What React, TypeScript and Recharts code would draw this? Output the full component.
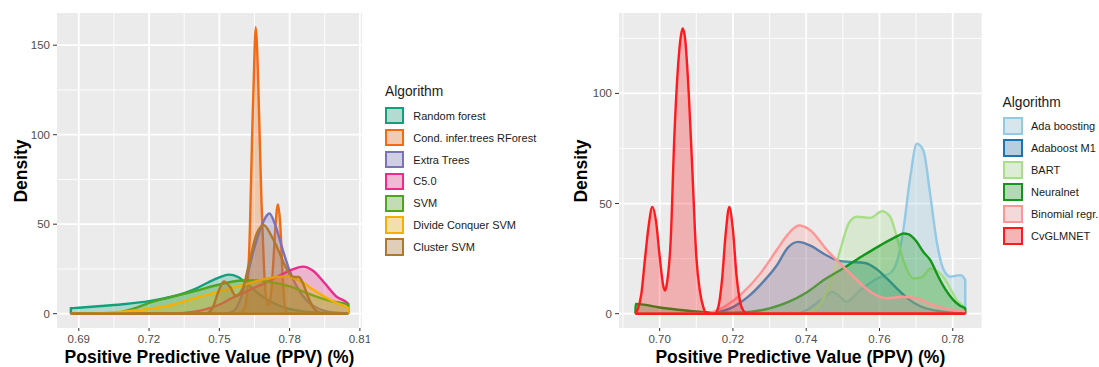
import React from 'react';
import { ComposedChart, Area, XAxis, YAxis, CartesianGrid, ReferenceLine } from 'recharts';

// ---------- Left panel data ----------
const leftNames = ['Random forest', 'Cond. infer.trees RForest', 'Extra Trees', 'C5.0', 'SVM', 'Divide Conquer SVM', 'Cluster SVM'];
const leftColors = ['#12a07c', '#f26b12', '#7a72bb', '#ee2a8b', '#4ea61e', '#f5b000', '#b0782a'];

const rfX = [0.6866, 0.68662, 0.69, 0.70, 0.71, 0.72, 0.73, 0.74, 0.745, 0.75, 0.754, 0.758, 0.762, 0.766, 0.770, 0.775, 0.780, 0.785, 0.790, 0.795, 0.800, 0.805];
const rfY = [0, 3.0, 3.3, 4.3, 5.4, 7.0, 9.6, 14.0, 17.3, 20.3, 21.8, 20.5, 16.5, 12.0, 8.2, 4.8, 2.6, 1.4, 0.7, 0.4, 0.2, 0.1];

const ciX = [0.6866, 0.755, 0.759, 0.761, 0.762, 0.763, 0.764, 0.765, 0.7655, 0.766, 0.767, 0.768, 0.769, 0.770, 0.771, 0.772, 0.773, 0.774, 0.775, 0.776, 0.777, 0.778, 0.779, 0.781, 0.805];
const ciY = [0, 0, 0.5, 4, 15, 45, 100, 145, 160, 152, 110, 62, 28, 8, 4.5, 10, 28, 50, 61, 50, 22, 4, 0.5, 0, 0];

const etX = [0.6866, 0.752, 0.756, 0.759, 0.762, 0.765, 0.768, 0.7714, 0.774, 0.777, 0.780, 0.785, 0.790, 0.795, 0.800, 0.805];
const etY = [0, 0, 1.5, 8, 22, 37, 49, 56, 49, 36, 24, 11, 4.5, 1.5, 0.5, 0.2];

const c5X = [0.6866, 0.73, 0.735, 0.74, 0.745, 0.75, 0.755, 0.76, 0.765, 0.77, 0.775, 0.78, 0.7857, 0.79, 0.795, 0.80, 0.805, 0.80502];
const c5Y = [0, 0, 0.4, 1.2, 2.8, 5, 8.5, 11.5, 14.5, 17.5, 20.8, 24, 26.3, 24, 17, 9.5, 5.6, 0];

const svmX = [0.6866, 0.70, 0.705, 0.71, 0.715, 0.72, 0.73, 0.74, 0.75, 0.76, 0.766, 0.772, 0.78, 0.785, 0.79, 0.795, 0.80, 0.805, 0.80502];
const svmY = [0, 0, 0.3, 1.5, 3.5, 6, 9.5, 12.8, 16.3, 18.5, 18.6, 17.6, 15.2, 12.8, 10.2, 8, 6.4, 5.2, 0];

const dcX = [0.6866, 0.695, 0.70, 0.71, 0.72, 0.73, 0.74, 0.75, 0.76, 0.77, 0.778, 0.785, 0.79, 0.795, 0.80, 0.805, 0.80502];
const dcY = [0, 0, 0.3, 1.2, 2.6, 5, 8.8, 12.5, 16, 19.5, 20.8, 18, 13.5, 9.5, 6, 3.2, 0];

const csX = [0.6866, 0.744, 0.747, 0.7495, 0.752, 0.7545, 0.757, 0.760, 0.763, 0.766, 0.769, 0.772, 0.775, 0.778, 0.780, 0.782, 0.784, 0.786, 0.788, 0.790, 0.792, 0.795, 0.805];
const csY = [0, 0, 3, 12, 18, 15, 10, 14, 30, 45, 49.5, 44, 36, 27, 22, 20.5, 20.5, 16, 9, 3.5, 1, 0, 0];

const leftXs = [rfX, ciX, etX, c5X, svmX, dcX, csX];
const leftYs = [rfY, ciY, etY, c5Y, svmY, dcY, csY];
const leftXTicks = [0.69, 0.72, 0.75, 0.78, 0.81];
const leftXMinor = [0.705, 0.735, 0.765, 0.795];
const leftYTicks = [0, 50, 100, 150];
const leftYMinor = [25, 75, 125];
const leftXDomain = [0.6807, 0.8109];
const leftYDomain = [-8, 168];
const leftRange = [0.6866, 0.805];

// ---------- Right panel data ----------
const rightNames = ['Ada boosting', 'Adaboost M1', 'BART', 'Neuralnet', 'Binomial regr.', 'CvGLMNET'];
const rightColors = ['#93c9e4', '#1c74b1', '#a9de88', '#13961a', '#ff9696', '#ff1a1c'];

const adaX = [0.6934, 0.737, 0.740, 0.743, 0.7452, 0.747, 0.749, 0.7511, 0.754, 0.757, 0.760, 0.763, 0.765, 0.7665, 0.7684, 0.7702, 0.772, 0.7738, 0.7757, 0.7775, 0.7793, 0.782, 0.7834, 0.78342];
const adaY = [0, 0, 1.5, 5, 7.7, 10, 8, 5.4, 9.5, 13.5, 16.5, 18.5, 25, 38, 62, 77.2, 74, 54.6, 32, 20, 16.8, 17.5, 15.3, 0];

const abmX = [0.6934, 0.712, 0.716, 0.72, 0.724, 0.728, 0.732, 0.735, 0.7378, 0.741, 0.745, 0.749, 0.752, 0.756, 0.759, 0.762, 0.765, 0.768, 0.771, 0.775, 0.779, 0.7834];
const abmY = [0, 0, 0.8, 3, 7.5, 14, 22, 30, 32.6, 31, 27, 24, 23.5, 23, 20.5, 16, 11, 6.5, 3.5, 1.5, 0.6, 0.3];

const bartX = [0.6934, 0.738, 0.741, 0.744, 0.7466, 0.7493, 0.7516, 0.7538, 0.7575, 0.7607, 0.7629, 0.7647, 0.7665, 0.7693, 0.7715, 0.774, 0.7775, 0.7811, 0.7834, 0.78342];
const bartY = [0, 0, 0.9, 5, 13.8, 29, 41, 44, 43.5, 46.5, 44, 35, 24.3, 16, 16.5, 20.5, 16.5, 6.2, 1.7, 0];

const nnX = [0.6934, 0.69342, 0.695, 0.70, 0.705, 0.71, 0.715, 0.72, 0.725, 0.73, 0.735, 0.74, 0.745, 0.75, 0.755, 0.76, 0.765, 0.7665, 0.768, 0.770, 0.772, 0.774, 0.776, 0.778, 0.780, 0.782, 0.7834, 0.78342];
const nnY = [0, 4.4, 4.2, 2.8, 1.8, 1.0, 0.5, 0.4, 0.9, 2.4, 5.2, 9.5, 15.5, 20.5, 25.8, 30.8, 35.3, 36.4, 36, 33, 28, 24, 17, 11, 6.5, 3.6, 2.4, 0];

const binX = [0.6934, 0.712, 0.715, 0.718, 0.7225, 0.7275, 0.732, 0.735, 0.738, 0.741, 0.7456, 0.752, 0.7575, 0.762, 0.7665, 0.770, 0.7747, 0.780, 0.7834];
const binY = [0, 0, 1, 3.5, 9.2, 18.3, 29, 36, 40, 38, 29, 18.3, 10, 7, 7.7, 7, 3.9, 1.7, 0.9];

const cvX = [0.6934, 0.694, 0.695, 0.696, 0.697, 0.698, 0.699, 0.700, 0.701, 0.7015, 0.702, 0.703, 0.704, 0.705, 0.706, 0.7063, 0.707, 0.708, 0.709, 0.710, 0.711, 0.712, 0.7125, 0.715, 0.716, 0.717, 0.718, 0.719, 0.720, 0.721, 0.722, 0.723, 0.724, 0.7834];
const cvY = [0.3, 2, 9, 25, 40, 48.5, 42, 26, 12.5, 10.5, 14, 33, 80, 112, 128, 129.5, 124, 98, 62, 26, 10, 2.5, 0.5, 0, 3, 15, 36, 48.5, 38, 17, 5, 1, 0, 0];

const rightXs = [adaX, abmX, bartX, nnX, binX, cvX];
const rightYs = [adaY, abmY, bartY, nnY, binY, cvY];
const rightXTicks = [0.70, 0.72, 0.74, 0.76, 0.78];
const rightXMinor = [0.69, 0.71, 0.73, 0.75, 0.77];
const rightYTicks = [0, 50, 100];
const rightYMinor = [25, 75, 125];
const rightXDomain = [0.6889, 0.7879];
const rightYDomain = [-6.5, 136.5];
const rightRange = [0.6934, 0.7834];

const FONT = "'Liberation Sans', Arial, Helvetica, sans-serif";

function zip(xs: number[], ys: number[]) {
  return xs.map((x, i) => ({ x, y: ys[i] }));
}

function hexA(hex: string, a: number) {
  const r = parseInt(hex.slice(1, 3), 16);
  const g = parseInt(hex.slice(3, 5), 16);
  const b = parseInt(hex.slice(5, 7), 16);
  return `rgba(${r},${g},${b},${a})`;
}

type PanelProps = {
  width: number;
  yAxisWidth: number;
  marginRight: number;
  names: string[];
  colors: string[];
  xs: number[][];
  ys: number[][];
  xDomain: number[];
  yDomain: number[];
  xTicks: number[];
  yTicks: number[];
  xMinor: number[];
  yMinor: number[];
  range: number[];
};

function Panel(p: PanelProps) {
  const tickStyle = { fill: '#4d4d4d', fontSize: 11.5, fontFamily: FONT };
  return (
    <ComposedChart width={p.width} height={367} margin={{ top: 13, right: p.marginRight, bottom: 0, left: 0 }}>
      <CartesianGrid fill="#EBEBEB" stroke="#ffffff" strokeWidth={0.9} horizontalValues={p.yMinor} verticalValues={p.xMinor} />
      <CartesianGrid stroke="#ffffff" strokeWidth={1.8} horizontalValues={p.yTicks} verticalValues={p.xTicks} />
      <XAxis
        dataKey="x"
        type="number"
        domain={p.xDomain}
        ticks={p.xTicks}
        interval={0}
        allowDataOverflow
        height={39}
        tickSize={3}
        tickMargin={4}
        axisLine={false}
        tickLine={{ stroke: '#333333' }}
        tick={tickStyle}
        tickFormatter={(v: number) => v.toFixed(2)}
      />
      <YAxis
        type="number"
        domain={p.yDomain}
        ticks={p.yTicks}
        interval={0}
        allowDataOverflow
        width={p.yAxisWidth}
        tickSize={4}
        tickMargin={3}
        axisLine={false}
        tickLine={{ stroke: '#333333' }}
        tick={tickStyle}
      />
      {p.names.map((n, i) => (
        <Area
          key={n}
          name={n}
          data={zip(p.xs[i], p.ys[i])}
          dataKey="y"
          type="monotone"
          stroke={p.colors[i]}
          strokeWidth={2.4}
          fill={p.colors[i]}
          fillOpacity={0.28}
          baseValue={0}
          dot={false}
          activeDot={false}
          isAnimationActive={false}
        />
      ))}
      <ReferenceLine
        segment={[{ x: p.range[0], y: 0 }, { x: p.range[1], y: 0 }]}
        stroke={p.colors[p.colors.length - 1]}
        strokeWidth={2.4}
      />
    </ComposedChart>
  );
}

function Legend({ names, colors, left, titleY, firstY, pitch, keyW, keyH, textLeft }: any) {
  return (
    <div style={{ position: 'absolute', left: 0, top: 0, fontFamily: FONT }}>
      <div style={{ position: 'absolute', left, top: titleY - 8, lineHeight: '16px', fontSize: 13.8, color: '#1a1a1a', whiteSpace: 'nowrap' }}>Algorithm</div>
      {names.map((n: string, i: number) => {
        const cy = firstY + i * pitch;
        return (
          <React.Fragment key={n}>
            <div style={{ position: 'absolute', left, top: cy - keyH / 2, width: keyW, height: keyH, background: '#F2F2F2' }}>
              <div style={{ position: 'absolute', left: 0, top: 0, right: 0, bottom: 0, border: `2px solid ${colors[i]}`, background: hexA(colors[i], 0.28), boxSizing: 'border-box' }} />
            </div>
            <div style={{ position: 'absolute', left: textLeft, top: cy - 7, lineHeight: '14px', fontSize: 11, color: '#1a1a1a', whiteSpace: 'nowrap' }}>{n}</div>
          </React.Fragment>
        );
      })}
    </div>
  );
}

function Title({ text, cx, cy, rotate }: { text: string; cx: number; cy: number; rotate?: boolean }) {
  return (
    <div
      style={{
        position: 'absolute',
        left: cx,
        top: cy,
        transform: `translate(-50%, -50%)${rotate ? ' rotate(-90deg)' : ''}`,
        fontFamily: FONT,
        fontWeight: 'bold',
        fontSize: 17.5,
        lineHeight: '20px',
        color: '#000',
        whiteSpace: 'nowrap',
      }}
    >
      {text}
    </div>
  );
}

export default function App() {
  return (
    <div style={{ position: 'absolute', left: 0, top: 0, width: 1099, height: 367, background: '#ffffff', overflow: 'hidden' }}>
      <div style={{ position: 'absolute', left: 0, top: 0 }}>
        <Panel
          width={370}
          yAxisWidth={57}
          marginRight={8}
          names={leftNames}
          colors={leftColors}
          xs={leftXs}
          ys={leftYs}
          xDomain={leftXDomain}
          yDomain={leftYDomain}
          xTicks={leftXTicks}
          yTicks={leftYTicks}
          xMinor={leftXMinor}
          yMinor={leftYMinor}
          range={leftRange}
        />
      </div>
      <div style={{ position: 'absolute', left: 560, top: 0 }}>
        <Panel
          width={430}
          yAxisWidth={59}
          marginRight={8.3}
          names={rightNames}
          colors={rightColors}
          xs={rightXs}
          ys={rightYs}
          xDomain={rightXDomain}
          yDomain={rightYDomain}
          xTicks={rightXTicks}
          yTicks={rightYTicks}
          xMinor={rightXMinor}
          yMinor={rightYMinor}
          range={rightRange}
        />
      </div>
      <Title text="Density" cx={20.7} cy={171} rotate />
      <Title text="Positive Predictive Value (PPV) (%)" cx={209.5} cy={356.5} />
      <Title text="Density" cx={580.7} cy={170.5} rotate />
      <Title text="Positive Predictive Value (PPV) (%)" cx={800.3} cy={356.5} />
      <Legend names={leftNames} colors={leftColors} left={385} titleY={91.7} firstY={115.7} pitch={21.9} keyW={19} keyH={17.6} textLeft={413.3} />
      <Legend names={rightNames} colors={rightColors} left={1002.5} titleY={102.7} firstY={126} pitch={22} keyW={20.6} keyH={18.3} textLeft={1031} />
    </div>
  );
}
